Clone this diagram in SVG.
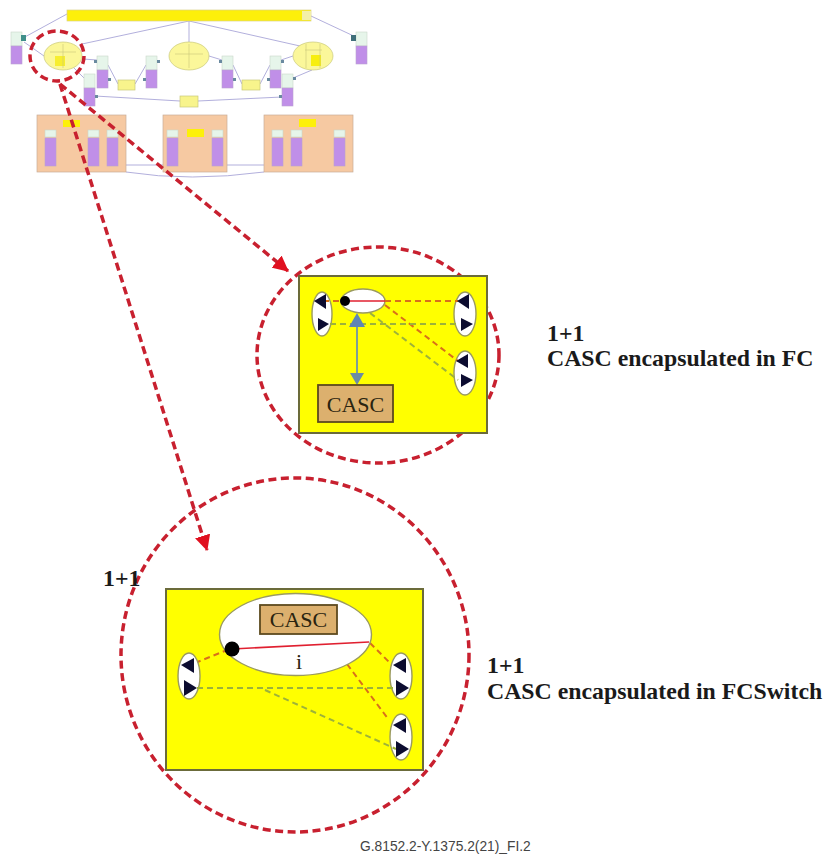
<svg xmlns="http://www.w3.org/2000/svg" xmlns:xlink="http://www.w3.org/1999/xlink" width="829" height="856" viewBox="0 0 829 856">
<style>
.pale{fill:#e6f5ea;stroke:#c9d6c9;stroke-width:.6}
.pur{fill:#c08fe8;stroke:#b9a2cf;stroke-width:.6}
.yb{fill:#f8f48c;stroke:#c9c87a;stroke-width:.7}
.yell{fill:#fbf79a;stroke:#c9c87a;stroke-width:.7}
.box{fill:#f6c9a2;stroke:#c8ad98;stroke-width:.7}
.thin{fill:none;stroke:#a9a6d8;stroke-width:.9}
.port{fill:#6a8aa0}
.red{fill:none;stroke:#c8202f;stroke-width:3.500;stroke-dasharray:8 4.500}
.panel{fill:#ffff00;stroke:#6b6b3a;stroke-width:2}
.ov{fill:#fff;stroke:#9a9a60;stroke-width:1.400}
.dr{fill:none;stroke:#d8701a;stroke-width:2;stroke-dasharray:6 4}
.dg{fill:none;stroke:#9db23a;stroke-width:2;stroke-dasharray:6 4}
.casc{fill:#dcb06e;stroke:#5c4a1e;stroke-width:1.800}
.tri{fill:#0c0c30}
.s{font-family:"Liberation Serif",serif;font-size:22px;fill:#2a2410}
.b{font-family:"Liberation Serif",serif;font-weight:bold;font-size:23.800px;fill:#1a1a1a}
</style>
<defs>
<marker id="rh" markerWidth="4.500" markerHeight="4.500" refX="4.200" refY="2.250" orient="auto"><path d="M0 0L4.500 2.250L0 4.500Z" fill="#e0101f"/></marker>
<g id="stack"><rect class="pale" x="0" y="0" width="11" height="14"/><rect class="pur" x="0" y="14" width="11" height="18"/></g>
<g id="bar"><rect class="pale" x="0" y="0" width="11" height="7"/><rect class="pur" x="0" y="8" width="11" height="28"/></g>
</defs>
<g id="connectors">
<path class="thin" d="M67 14L23 38M311 16L358 38M189 21V42M189 21L82 44M189 21L300 46M44 56L24 42M83 59L97 60M209 56L222 60M293 56L281 60M108 65L118 84M135 84L146 65M233 65L242 84M260 84L270 65M95 96L180 101M198 101L282 97M51 45L84 78M312 70L293 78"/>
<path class="thin" d="M126 165H167M223 165H272M126 172Q190 182 264 172M80 124L98 130M316 123L340 130M70 127L50 131M204 133H212M187 133H178M299 124L296 130"/>
</g>
<g id="top-bar"><rect x="67" y="10" width="244" height="11" fill="#fdf00a" stroke="#d9d28a" stroke-width=".7"/><rect x="302" y="11" width="9" height="9" fill="#f3f0a8"/></g>
<g id="stack-left"><use xlink:href="#stack" x="11" y="32"/><rect x="21" y="35" width="5" height="6" fill="#3f8f8a"/></g>
<g id="stack-right"><use xlink:href="#stack" x="356" y="32"/><rect x="351" y="35" width="5" height="6" fill="#3f6f7a"/></g>
<g id="ellipse-1"><ellipse class="yell" cx="63" cy="56" rx="19" ry="14"/><rect x="55" y="56" width="10" height="10" fill="#f7ee30"/><path d="M50 52H76M63 44V68" stroke="#c9c87a" stroke-width=".6" fill="none"/></g>
<g id="ellipse-2"><ellipse class="yell" cx="189" cy="56" rx="20" ry="14"/><path d="M175 54H203M189 44V68" stroke="#c9c87a" stroke-width=".6" fill="none"/></g>
<g id="ellipse-3"><ellipse class="yell" cx="313" cy="56" rx="20" ry="14"/><rect x="311" y="55" width="10" height="11" fill="#f7ee10"/><path d="M305 50H322M306 44V68M320 44V68" stroke="#c9c87a" stroke-width=".6" fill="none"/></g>
<g id="n1"><use xlink:href="#stack" x="97" y="56"/><rect class="port" x="94" y="60" width="3" height="3"/><rect class="port" x="108" y="78" width="3" height="3"/></g>
<g id="n2"><use xlink:href="#stack" x="146" y="56"/><rect class="port" x="157" y="60" width="3" height="3"/><rect class="port" x="143" y="78" width="3" height="3"/></g>
<g id="n3"><use xlink:href="#stack" x="222" y="56"/><rect class="port" x="219" y="60" width="3" height="3"/><rect class="port" x="233" y="78" width="3" height="3"/></g>
<g id="n4"><use xlink:href="#stack" x="270" y="56"/><rect class="port" x="281" y="60" width="3" height="3"/><rect class="port" x="267" y="78" width="3" height="3"/></g>
<g id="n5"><use xlink:href="#stack" x="84" y="74"/><rect class="port" x="95" y="95" width="3" height="3"/></g>
<g id="n6"><use xlink:href="#stack" x="282" y="74"/><rect class="port" x="293" y="77" width="3" height="3"/><rect class="port" x="279" y="95" width="3" height="3"/></g>
<g id="r1"><rect class="yb" x="118" y="80" width="17" height="10"/></g>
<g id="r2"><rect class="yb" x="242" y="80" width="18" height="10"/></g>
<g id="r3"><rect class="yb" x="180" y="96" width="18" height="11"/></g>
<g id="box-1"><rect class="box" x="37" y="115" width="89" height="57"/><use xlink:href="#bar" x="45" y="130"/><use xlink:href="#bar" x="88" y="130"/><use xlink:href="#bar" x="107" y="130"/><rect x="63" y="120" width="17" height="7" fill="#fdf00a"/></g>
<g id="box-2"><rect class="box" x="163" y="115" width="64" height="57"/><use xlink:href="#bar" x="167" y="130"/><use xlink:href="#bar" x="212" y="130"/><rect x="187" y="129" width="17" height="8" fill="#fdf00a"/></g>
<g id="box-3"><rect class="box" x="264" y="115" width="89" height="57"/><use xlink:href="#bar" x="272" y="130"/><use xlink:href="#bar" x="291" y="130"/><use xlink:href="#bar" x="334" y="130"/><rect x="299" y="119" width="17" height="8" fill="#fdf00a"/></g>
<g id="zoom-ring-small"><ellipse class="red" cx="57" cy="56" rx="27" ry="25"/></g>
<g id="ring-fc"><ellipse class="red" cx="378" cy="355" rx="121" ry="108"/></g>
<g id="ring-fcswitch"><ellipse class="red" cx="295" cy="655" rx="174" ry="177"/></g>
<g id="panel-fc">
<rect class="panel" x="299" y="276" width="188" height="157"/>
<ellipse class="ov" cx="322" cy="314" rx="10" ry="22"/>
<ellipse class="ov" cx="465" cy="314" rx="11" ry="22"/>
<ellipse class="ov" cx="465" cy="373" rx="11" ry="22"/>
<ellipse class="ov" cx="363" cy="301" rx="22" ry="12"/>
<path class="dr" d="M323 301H346M385 301H458M385 305L458 361"/>
<path class="dg" d="M330 324H458M370 313L458 380"/>
<path d="M345 301H385" stroke="#e02030" stroke-width="1.500"/>
<circle cx="345" cy="301" r="5" fill="#000"/>
<path class="tri" d="M314 301L326 294V309Z"/><path class="tri" d="M318 318L329 324L318 331Z"/>
<path class="tri" d="M457 301L469 294V309Z"/><path class="tri" d="M461 318L473 324L461 331Z"/>
<path class="tri" d="M456 361L468 354V368Z"/><path class="tri" d="M461 374L473 380L461 387Z"/>
<path d="M357 321V380" stroke="#6f95a8" stroke-width="1.800"/>
<path d="M357 313L365 327H349Z" fill="#5f86b5"/><path d="M350 373H364L357 385Z" fill="#6b8ca5"/>
<rect class="casc" x="318" y="385" width="75" height="37"/>
<text class="s" x="355.500" y="412" text-anchor="middle">CASC</text>
</g>
<g id="panel-fcswitch">
<rect class="panel" x="166" y="589" width="257" height="181"/>
<path class="dr" d="M195 663L232 648M370 643L394 667M347 664L389 720"/>
<ellipse class="ov" cx="295.500" cy="634.500" rx="76" ry="41"/>
<ellipse class="ov" cx="189" cy="676" rx="11" ry="23"/>
<ellipse class="ov" cx="401" cy="676" rx="11" ry="23"/>
<ellipse class="ov" cx="401" cy="737" rx="11" ry="23"/>
<path class="dg" d="M197 688H395M265 690L396 749"/>
<path d="M232 649L369 642" stroke="#e02030" stroke-width="1.600"/>
<circle cx="232" cy="649" r="7.500" fill="#000"/>
<path class="tri" d="M181 665L194 658V673Z"/><path class="tri" d="M184 680L197 688L184 696Z"/>
<path class="tri" d="M393 665L406 658V673Z"/><path class="tri" d="M396 680L409 688L396 696Z"/>
<path class="tri" d="M393 725L406 718V733Z"/><path class="tri" d="M396 741L409 749L396 757Z"/>
<rect class="casc" x="260" y="605" width="77" height="29"/>
<text class="s" x="298.500" y="627" text-anchor="middle">CASC</text>
<text class="s" x="299" y="669" text-anchor="middle">i</text>
</g>
<g id="callout-connectors">
<path class="red" d="M60 84L288 271" marker-end="url(#rh)"/>
<path class="red" d="M60 84L207 550" marker-end="url(#rh)"/>
</g>
<g id="labels">
<text class="b" x="547" y="341">1+1</text>
<text class="b" x="547" y="366">CASC encapsulated in FC</text>
<text class="b" x="103" y="586">1+1</text>
<text class="b" x="487" y="673">1+1</text>
<text class="b" x="487" y="699">CASC encapsulated in FCSwitch</text>
<text x="360" y="851" font-family="Liberation Sans, Arial, sans-serif" font-size="13.800" fill="#444">G.8152.2-Y.1375.2(21)_FI.2</text>
</g>
</svg>
